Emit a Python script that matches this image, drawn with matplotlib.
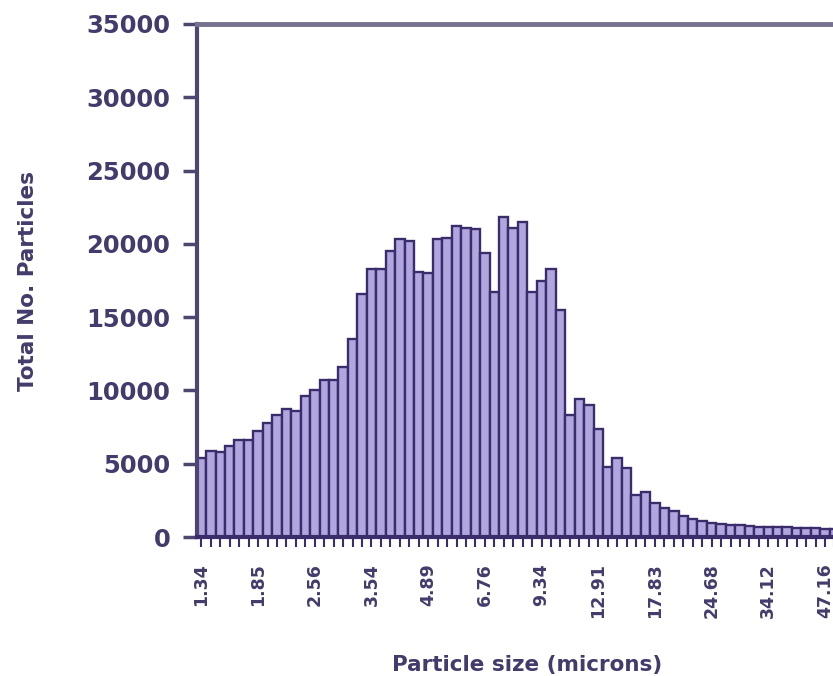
import matplotlib
matplotlib.use("Agg")
import matplotlib.pyplot as plt

# size class labels (microns), one label every sixth bin
size_labels = ["1.34", "1.85", "2.56", "3.54", "4.89", "6.76",
               "9.34", "12.91", "17.83", "24.68", "34.12", "47.16"]
label_step = 6

# particle counts per size bin
counts = [5400, 5900, 5800, 6200, 6600, 6600, 7200, 7800, 8300, 8700,
          8600, 9600, 10000, 10700, 10700, 11600, 13500, 16600, 18300, 18300,
          19500, 20300, 20200, 18100, 18000, 20300, 20400, 21200, 21100, 21000,
          19400, 16700, 21800, 21100, 21500, 16700, 17500, 18300, 15500, 8300,
          9400, 9000, 7400, 4800, 5400, 4700, 2900, 3100, 2300, 2000,
          1800, 1400, 1200, 1100, 950, 900, 850, 800, 750, 700,
          700, 650, 650, 600, 600, 600, 550, 550]

text_col = "#433b6b"
fill_col = "#b2a6df"
edge_col = "#3b2d6b"

fig = plt.figure(figsize=(8.33, 6.76), dpi=100)
# axes runs past the right edge of the figure, so the last bins are cut off
ax = fig.add_axes([0.2361, 0.2056, 0.794, 0.7589])

x = list(range(len(counts)))
ax.bar(x, counts, width=1.0, color=fill_col, edgecolor=edge_col, linewidth=1.7)

ax.set_xlim(-0.5, 69.5)
ax.set_ylim(0, 35000)
ax.set_yticks(range(0, 35001, 5000))

ax.set_xticks(x, minor=True)
major = list(range(0, len(size_labels) * label_step, label_step))
ax.set_xticks(major)
ax.set_xticklabels(size_labels, rotation=90, va="top", ha="center")

for lab in ax.get_xticklabels():
    lab.set_fontsize(12.5)
    lab.set_fontweight("bold")
    lab.set_color(text_col)
for lab in ax.get_yticklabels():
    lab.set_fontsize(17.5)
    lab.set_fontweight("bold")
    lab.set_color(text_col)

ax.tick_params(axis="y", direction="out", length=10, width=2.5, color="#4e4670", pad=9)
ax.tick_params(axis="x", which="both", direction="out", length=7, width=1.5,
               color=edge_col, pad=12)

ax.spines["right"].set_visible(False)
ax.spines["left"].set_color("#4e4670")
ax.spines["left"].set_linewidth(3)
ax.spines["top"].set_color("#77708f")
ax.spines["top"].set_linewidth(3.5)
ax.spines["bottom"].set_color(edge_col)
ax.spines["bottom"].set_linewidth(3)

ax.set_xlabel("Particle size (microns)", fontsize=15.5, fontweight="bold",
              color=text_col, labelpad=26)
ax.set_ylabel("Total No. Particles", fontsize=15.5, fontweight="bold",
              color=text_col)
ax.yaxis.set_label_coords(-0.24, 0.5)

fig.savefig("out.png", dpi=100)
